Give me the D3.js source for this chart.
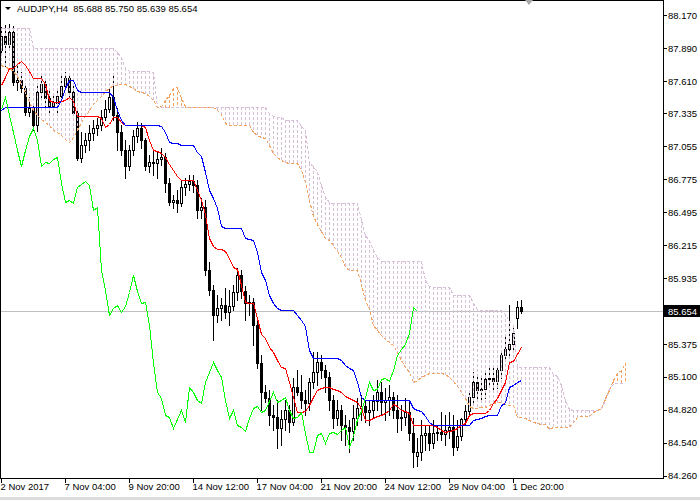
<!DOCTYPE html>
<html><head><meta charset="utf-8">
<script src="https://cdn.jsdelivr.net/npm/d3@7"></script>
<style>
html,body{margin:0;padding:0;background:#fff;}
svg{display:block;font-family:"Liberation Sans",Arial,sans-serif;}
</style></head><body>
<svg id="c" width="700" height="500"></svg>
<script>
const symbol = "AUDJPY,H4";
const priceTicks = [88.170,87.890,87.610,87.335,87.055,86.775,86.495,86.215,85.935,85.375,85.100,84.820,84.540,84.260];
const timeTickBars = [0,16,32,48,64,80,96,112,128];
const timeTickLabels = ["2 Nov 2017","7 Nov 04:00","9 Nov 20:00","14 Nov 12:00","17 Nov 04:00","21 Nov 20:00","24 Nov 12:00","29 Nov 04:00","1 Dec 20:00"];

const opens = [87.872,87.991,87.923,88.025,87.601,87.618,87.550,87.346,87.380,87.236,
87.516,87.584,87.465,87.397,87.423,87.482,87.567,87.635,87.516,87.338,
86.956,87.066,87.108,87.168,87.210,87.236,87.304,87.372,87.474,87.321,
87.176,87.023,86.888,87.023,87.142,87.210,87.108,86.888,86.922,86.913,
86.947,86.964,86.743,86.582,86.599,86.574,86.709,86.735,86.760,86.726,
86.514,86.540,86.005,85.835,85.623,85.682,85.708,85.648,85.699,85.818,
85.962,85.826,85.725,85.733,85.538,85.215,84.969,84.918,84.774,84.757,
84.663,84.740,84.816,84.714,85.011,84.969,84.901,84.876,85.054,85.139,
85.224,85.156,85.096,84.901,84.748,84.816,84.689,84.672,84.638,84.748,
84.833,84.850,84.799,84.816,84.893,84.969,84.884,84.901,84.927,84.816,
84.748,84.757,84.799,84.621,84.426,84.460,84.604,84.621,84.536,84.621,
84.629,84.612,84.646,84.672,84.502,84.595,84.740,84.808,84.927,85.054,
84.986,84.994,85.079,85.088,85.062,85.156,85.283,85.334,85.376,85.597,
85.688];
const highs = [88.068,88.085,88.093,88.076,87.737,87.686,87.575,87.474,87.423,87.575,
87.660,87.618,87.550,87.490,87.533,87.660,87.686,87.660,87.575,87.363,
87.176,87.168,87.236,87.278,87.295,87.363,87.448,87.550,87.660,87.380,
87.236,87.108,87.066,87.193,87.261,87.253,87.125,86.981,87.023,87.006,
87.040,86.998,86.786,86.641,86.684,86.769,86.786,86.811,86.811,86.769,
86.616,86.599,86.073,85.877,85.792,85.767,85.852,85.835,85.877,86.022,
86.005,85.869,85.792,85.767,85.597,85.283,85.028,84.986,84.859,84.901,
84.816,84.901,84.859,85.088,85.156,85.113,84.986,85.088,85.308,85.308,
85.283,85.198,85.139,84.943,84.901,84.859,84.774,84.731,84.859,84.918,
84.943,84.901,84.901,84.943,85.071,85.054,85.003,85.028,84.969,84.943,
84.859,84.918,84.901,84.748,84.578,84.731,84.689,84.689,84.731,84.689,
84.799,84.774,84.799,84.774,84.731,84.748,84.859,84.960,85.139,85.113,
85.113,85.156,85.198,85.173,85.173,85.326,85.453,85.708,85.538,85.744,
85.750];
const lows = [87.830,87.737,87.889,87.575,87.533,87.516,87.321,87.312,87.193,87.185,
87.448,87.380,87.346,87.363,87.346,87.448,87.533,87.482,87.321,86.939,
86.922,87.006,87.023,87.108,87.151,87.193,87.278,87.346,87.278,87.023,
86.981,86.786,86.854,86.981,87.091,87.040,86.854,86.837,86.811,86.786,
86.896,86.667,86.557,86.531,86.497,86.548,86.641,86.684,86.667,86.446,
86.446,85.962,85.792,85.410,85.563,85.580,85.597,85.538,85.665,85.750,
85.767,85.580,85.623,85.368,85.173,84.816,84.884,84.689,84.646,84.494,
84.519,84.646,84.629,84.689,84.943,84.833,84.774,84.816,85.003,85.028,
85.088,84.969,84.816,84.663,84.689,84.561,84.519,84.460,84.561,84.689,
84.731,84.714,84.689,84.748,84.816,84.774,84.731,84.774,84.748,84.629,
84.646,84.689,84.561,84.332,84.341,84.392,84.477,84.477,84.494,84.561,
84.561,84.519,84.578,84.434,84.477,84.561,84.689,84.774,84.884,84.901,
84.884,84.918,85.028,84.986,85.003,85.088,85.241,85.283,85.326,85.512,
85.639];
const closes = [87.991,87.923,88.025,87.601,87.618,87.550,87.346,87.380,87.236,87.516,
87.584,87.465,87.397,87.423,87.482,87.567,87.635,87.516,87.338,86.956,
87.066,87.108,87.168,87.210,87.236,87.304,87.372,87.474,87.321,87.176,
87.023,86.888,87.023,87.142,87.210,87.108,86.888,86.922,86.913,86.947,
86.964,86.743,86.582,86.599,86.574,86.709,86.735,86.760,86.726,86.514,
86.540,86.005,85.835,85.623,85.682,85.708,85.648,85.699,85.818,85.962,
85.826,85.725,85.733,85.538,85.215,84.969,84.918,84.774,84.757,84.663,
84.740,84.816,84.714,85.011,84.969,84.901,84.876,85.054,85.139,85.224,
85.156,85.096,84.901,84.748,84.816,84.689,84.672,84.638,84.748,84.833,
84.850,84.799,84.816,84.893,84.969,84.884,84.901,84.927,84.816,84.748,
84.757,84.799,84.621,84.460,84.460,84.604,84.621,84.536,84.621,84.629,
84.612,84.646,84.672,84.502,84.595,84.740,84.808,84.927,85.054,84.986,
84.994,85.079,85.088,85.062,85.156,85.283,85.334,85.376,85.470,85.688,
85.654];

const tenkan = [87.575,87.643,87.720,87.720,87.754,87.779,87.745,87.694,87.635,87.635,
87.635,87.584,87.448,87.431,87.431,87.440,87.448,87.474,87.440,87.312,
87.312,87.312,87.312,87.312,87.312,87.295,87.219,87.244,87.304,87.304,
87.261,87.236,87.236,87.236,87.236,87.236,87.219,87.108,87.023,87.015,
86.998,86.964,86.905,86.854,86.803,86.769,86.769,86.769,86.769,86.684,
86.599,86.480,86.276,86.208,86.183,86.183,86.166,86.107,86.030,86.013,
85.877,85.733,85.725,85.725,85.597,85.461,85.427,85.351,85.308,85.241,
85.181,85.173,85.054,84.927,84.799,84.799,84.808,84.859,84.927,84.986,
85.003,85.011,85.011,84.994,84.986,84.969,84.935,84.918,84.901,84.884,
84.833,84.731,84.731,84.748,84.765,84.774,84.791,84.816,84.867,84.850,
84.816,84.808,84.791,84.689,84.689,84.689,84.689,84.689,84.689,84.672,
84.646,84.629,84.638,84.646,84.663,84.689,84.706,84.774,84.791,84.791,
84.791,84.791,84.816,84.876,84.918,84.986,85.054,85.224,85.232,85.292,
85.351];
const kijun = [87.363,87.389,87.389,87.389,87.389,87.389,87.389,87.389,87.389,87.389,
87.389,87.389,87.389,87.389,87.389,87.448,87.550,87.618,87.618,87.533,
87.516,87.516,87.516,87.516,87.516,87.516,87.516,87.516,87.474,87.363,
87.278,87.236,87.236,87.236,87.236,87.236,87.236,87.236,87.236,87.236,
87.227,87.176,87.091,87.083,87.083,87.066,87.066,87.066,87.066,87.006,
86.973,86.837,86.684,86.616,86.531,86.378,86.361,86.361,86.361,86.361,
86.361,86.276,86.268,86.260,86.158,85.988,85.920,85.792,85.725,85.682,
85.665,85.665,85.665,85.665,85.623,85.580,85.529,85.326,85.258,85.258,
85.258,85.258,85.258,85.258,85.258,85.241,85.198,85.173,85.156,85.054,
84.927,84.901,84.901,84.901,84.901,84.901,84.901,84.901,84.901,84.901,
84.901,84.901,84.901,84.833,84.816,84.808,84.765,84.714,84.689,84.689,
84.689,84.689,84.689,84.689,84.689,84.689,84.689,84.689,84.731,84.740,
84.748,84.765,84.774,84.774,84.774,84.859,84.876,85.011,85.028,85.054,
85.071];
const spanA = [87.745,87.728,87.720,87.694,87.652,87.584,87.507,87.431,87.363,87.321,
87.287,87.261,87.236,87.193,87.176,87.151,87.117,87.091,87.134,87.193,
87.261,87.312,87.363,87.414,87.448,87.482,87.524,87.550,87.575,87.575,
87.584,87.584,87.567,87.550,87.524,87.516,87.507,87.482,87.448,87.389,
87.397,87.448,87.490,87.550,87.558,87.465,87.397,87.389,87.389,87.389,
87.389,87.389,87.389,87.389,87.363,87.329,87.253,87.236,87.236,87.236,
87.236,87.236,87.236,87.176,87.151,87.134,87.125,87.066,86.998,86.964,
86.939,86.922,86.913,86.913,86.913,86.854,86.752,86.599,86.463,86.395,
86.336,86.276,86.260,86.217,86.166,86.115,86.030,86.005,86.005,86.005,
85.886,85.750,85.674,85.538,85.496,85.453,85.419,85.393,85.368,85.308,
85.241,85.181,85.139,85.054,85.071,85.096,85.113,85.130,85.130,85.130,
85.130,85.122,85.096,85.062,85.020,84.969,84.918,84.850,84.833,84.833,
84.842,84.842,84.859,84.876,84.884,84.884,84.867,84.859,84.859,84.757,
84.757,84.748,84.731,84.714,84.706,84.697,84.697,84.655,84.672,84.672,
84.672,84.672,84.672,84.714,84.757,84.765,84.765,84.765,84.799,84.816,
84.833,84.918,84.986,85.071,85.130,85.156,85.215];
const spanB = [88.059,88.059,88.059,88.059,88.059,88.059,88.059,88.059,87.889,87.889,
87.889,87.889,87.889,87.889,87.889,87.889,87.889,87.889,87.889,87.889,
87.889,87.889,87.889,87.889,87.889,87.889,87.889,87.889,87.889,87.856,
87.813,87.720,87.694,87.694,87.694,87.694,87.694,87.694,87.686,87.389,
87.389,87.389,87.389,87.389,87.389,87.389,87.389,87.389,87.389,87.389,
87.389,87.389,87.389,87.389,87.389,87.389,87.389,87.389,87.389,87.389,
87.389,87.389,87.389,87.389,87.389,87.389,87.389,87.338,87.312,87.304,
87.304,87.278,87.278,87.278,87.278,87.227,87.193,86.913,86.888,86.837,
86.726,86.624,86.582,86.574,86.574,86.574,86.574,86.574,86.574,86.574,
86.429,86.302,86.260,86.175,86.115,86.081,86.081,86.081,86.081,86.081,
86.081,86.081,86.081,86.081,86.081,86.081,85.920,85.869,85.860,85.860,
85.860,85.860,85.860,85.792,85.792,85.792,85.792,85.792,85.725,85.674,
85.665,85.665,85.665,85.665,85.665,85.665,85.631,85.571,85.540,85.181,
85.181,85.181,85.181,85.181,85.181,85.181,85.181,85.181,85.122,85.105,
85.028,84.901,84.825,84.816,84.816,84.816,84.816,84.816,84.816,84.816,
84.833,84.901,85.003,85.037,85.045,85.045,85.054];
const chikouShift = 26;

const svg = d3.select("#c");
const plotR = 663, plotB = 478;
const x = d3.scaleLinear().domain([0,165]).range([1,661]);
const y = d3.scaleLinear().domain([84.260,88.170]).range([475.6,15]);
const px = i => Math.round(x(i));
const py = v => Math.round(y(v));
const n = closes.length;
const last = closes[n-1];

svg.append("defs").append("clipPath").attr("id","plot")
  .append("rect").attr("x",1).attr("y",1).attr("width",plotR-1).attr("height",plotB-1);
const g = svg.append("g").attr("clip-path","url(#plot)").attr("shape-rendering","crispEdges");

// current price line
g.append("line").attr("x1",0).attr("x2",plotR).attr("y1",py(last)+0.5).attr("y2",py(last)+0.5)
  .attr("stroke","#c0c0c0");

// candles
const cg = g.append("g");
d3.range(n).forEach(i => {
  const cx = px(i) + 0.5;
  cg.append("line").attr("x1",cx).attr("x2",cx).attr("y1",py(highs[i])).attr("y2",py(lows[i])+1)
    .attr("stroke","#000");
  const o = py(opens[i]), c = py(closes[i]);
  const top = Math.min(o,c), bot = Math.max(o,c);
  if (closes[i] > opens[i]) {
    cg.append("rect").attr("x",px(i)-0.5).attr("y",top+0.5).attr("width",2).attr("height",Math.max(bot-top,1))
      .attr("fill","#fff").attr("stroke","#000");
  } else {
    cg.append("rect").attr("x",px(i)-1).attr("y",top).attr("width",3).attr("height",bot-top+1)
      .attr("fill","#000");
  }
});

// cloud hatch
const hg = g.append("g");
d3.range(spanA.length).forEach(i => {
  const a = py(spanA[i]), b = py(spanB[i]);
  const col = spanA[i] > spanB[i] ? "#f4a460" : "#d8bfd8";
  hg.append("line").attr("x1",px(i)+0.5).attr("x2",px(i)+0.5)
    .attr("y1",Math.min(a,b)).attr("y2",Math.max(a,b)+1)
    .attr("stroke",col).attr("stroke-dasharray","3,2");
});
const line = d3.line().x((d,i) => px(i)+0.5).y(d => py(d)+0.5);
g.append("path").datum(spanB).attr("d",line).attr("fill","none").attr("stroke","#d8bfd8").attr("stroke-dasharray","3,2");
g.append("path").datum(spanA).attr("d",line).attr("fill","none").attr("stroke","#f4a460").attr("stroke-dasharray","3,2");

// tenkan / kijun / chikou
g.append("path").datum(tenkan).attr("d",line).attr("fill","none").attr("stroke","#ff0000");
g.append("path").datum(kijun).attr("d",line).attr("fill","none").attr("stroke","#0000ff");
const chikou = closes.slice(chikouShift);
g.append("path").datum(chikou).attr("d",line).attr("fill","none").attr("stroke","#00ff00");

// borders
const bg = svg.append("g").attr("shape-rendering","crispEdges").attr("stroke","#000");
bg.append("line").attr("x1",0).attr("x2",plotR+1).attr("y1",0.5).attr("y2",0.5);
bg.append("line").attr("x1",0.5).attr("x2",0.5).attr("y1",0).attr("y2",plotB+1);
bg.append("line").attr("x1",plotR+0.5).attr("x2",plotR+0.5).attr("y1",0).attr("y2",plotB+1);
bg.append("line").attr("x1",0).attr("x2",plotR+1).attr("y1",plotB+0.5).attr("y2",plotB+0.5);

// price axis
const ya = svg.append("g").attr("transform",`translate(${plotR},0)`)
  .call(d3.axisRight(y).tickValues(priceTicks).tickSize(4).tickPadding(1).tickFormat(d3.format(".3f")));
ya.select(".domain").remove();
ya.selectAll("text").attr("font-family","Liberation Sans, Arial, sans-serif").attr("font-size","9.5px").attr("fill","#000");
ya.selectAll("line").attr("stroke","#000").attr("shape-rendering","crispEdges");

// time axis
const xa = svg.append("g").attr("transform",`translate(0,${plotB})`)
  .call(d3.axisBottom(x).tickValues(timeTickBars).tickSize(5).tickPadding(0)
    .tickFormat((d,i) => timeTickLabels[i]));
xa.select(".domain").remove();
xa.selectAll("text").attr("text-anchor","start").attr("x",-1)
  .attr("font-family","Liberation Sans, Arial, sans-serif").attr("font-size","9.5px").attr("fill","#000");
xa.selectAll("line").attr("stroke","#000").attr("shape-rendering","crispEdges");

// current price label
const ly = y(last);
svg.append("rect").attr("x",664).attr("y",Math.round(ly)-6).attr("width",36).attr("height",12).attr("fill","#000");
svg.append("text").attr("x",668).attr("y",ly).attr("dy","0.34em").attr("font-size","9.5px").attr("fill","#fff")
  .text(d3.format(".3f")(last));

// title
svg.append("path").attr("d","M5,7 L11,7 L8,10 Z").attr("fill","#000");
svg.append("text").attr("x",17).attr("y",12).attr("font-size","9.5px").attr("fill","#000")
  .style("white-space","pre")
  .text(`${symbol}  ${d3.format(".3f")(opens[n-1])} ${d3.format(".3f")(highs[n-1])} ${d3.format(".3f")(lows[n-1])} ${d3.format(".3f")(last)}`);

// chart shift marker
svg.append("path").attr("d","M525,0 L533,0 L529,5 Z").attr("fill","#a8a8a8");

// bottom strip
svg.append("rect").attr("x",0).attr("y",497).attr("width",700).attr("height",3).attr("fill","#dcdcdc");
</script>
</body></html>
